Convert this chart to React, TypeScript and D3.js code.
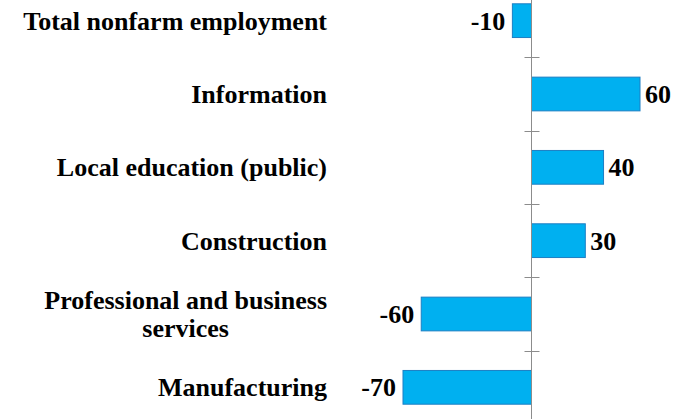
import React from "react";
import * as d3 from "d3";

const categories: string[][] = [
  ["Total nonfarm employment"],
  ["Information"],
  ["Local education (public)"],
  ["Construction"],
  ["Professional and business", "services"],
  ["Manufacturing"],
];
const values: number[] = [-10, 60, 40, 30, -60, -70];

const W = 688;
const H = 419;
const font = "'Liberation Serif', 'DejaVu Serif', serif";
const catFs = 26;
const valFs = 26;

function measure(t: string, size: number): number {
  if (typeof document === "undefined") return t.length * size * 0.5;
  const c = document.createElement("canvas").getContext("2d");
  if (!c) return t.length * size * 0.5;
  c.font = `bold ${size}px ${font}`;
  return c.measureText(t).width;
}

export default function App() {
  const x = d3.scaleLinear().domain([-70, 60]).range([403, 640]);
  const y = d3
    .scaleBand<number>()
    .domain(d3.range(categories.length))
    .range([-16, 424])
    .paddingInner(0.54)
    .paddingOuter(0.27);
  const step = y.step();
  const x0 = Math.round(x(0)) + 0.5;
  const ticks = d3.range(categories.length + 1).map((i) => Math.round(-16 + i * step) + 0.5);
  const labelRight = 327;
  return (
    <svg width={W} height={H} style={{ position: "absolute", left: 0, top: 0, background: "#fff" }}>
      {values.map((v, i) => {
        const x1 = Math.min(x(v), x0);
        const w = Math.abs(x(v) - x0);
        return (
          <rect
            key={i}
            x={x1}
            y={y(i)!}
            width={w}
            height={y.bandwidth()}
            fill="#00B0F0"
            stroke="#1C7FC4"
            strokeWidth={1}
          />
        );
      })}
      <line x1={x0} x2={x0} y1={-16} y2={424} stroke="#8C8C8C" strokeWidth={1} />
      {ticks.map((t, i) => (
        <line key={i} x1={x0 - 7} x2={x0 + 8} y1={t} y2={t} stroke="#8C8C8C" strokeWidth={1} />
      ))}
      {values.map((v, i) => {
        const cy = y(i)! + y.bandwidth() / 2;
        const neg = v < 0;
        return (
          <text
            key={i}
            x={neg ? x(v) - 7 : x(v) + 5}
            y={cy}
            dy="0.35em"
            textAnchor={neg ? "end" : "start"}
            fontFamily={font}
            fontWeight="bold"
            fontSize={valFs}
            fill="#000"
          >
            {String(v)}
          </text>
        );
      })}
      {categories.map((lines, i) => {
        const cy = y(i)! + y.bandwidth() / 2;
        const lh = 28;
        const top = cy - ((lines.length - 1) * lh) / 2;
        if (lines.length === 1) {
          return (
            <text key={i} x={labelRight} y={cy} dy="0.35em" textAnchor="end" fontFamily={font} fontWeight="bold" fontSize={catFs}>
              {lines[0]}
            </text>
          );
        }
        const maxW = Math.max(...lines.map((l) => measure(l, catFs)));
        const cx = labelRight - maxW / 2;
        return (
          <g key={i}>
            {lines.map((l, j) => (
              <text key={j} x={cx} y={top + j * lh} dy="0.35em" textAnchor="middle" fontFamily={font} fontWeight="bold" fontSize={catFs}>
                {l}
              </text>
            ))}
          </g>
        );
      })}
    </svg>
  );
}
